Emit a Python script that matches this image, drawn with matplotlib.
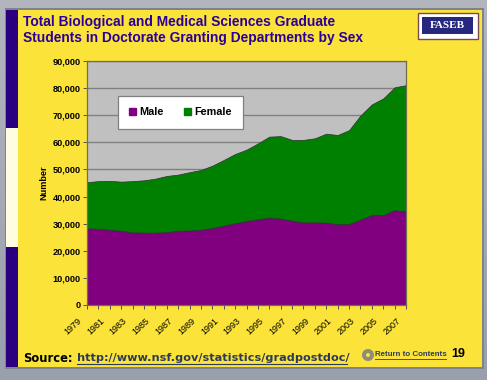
"""Graduate students by sex, FASEB slide."""

import matplotlib

matplotlib.use("Agg")
import matplotlib.pyplot as plt
import numpy as np
from matplotlib.patches import Circle, Patch, Rectangle
from matplotlib.transforms import ScaledTranslation

YEARS = list(range(1979, 2008))
MALE = [28300, 28100, 27800, 27400, 26800, 26700, 26700, 26900, 27400, 27500,
        27800, 28400, 29300, 30200, 31000, 31600, 32300, 31900, 31100, 30500,
        30500, 30400, 29800, 29900, 31500, 33200, 33200, 33800, 35000]
MALE[-1] = 34500
MALE[-2] = 35000
FEMALE = [17000, 17600, 18000, 18100, 18900, 19300, 19900, 20700, 20700, 21500,
          22000, 23000, 24200, 25500, 26300, 28000, 29800, 30400, 29800, 30400,
          31000, 32800, 32900, 34600, 38400, 40800, 43000, 45300, 46600]
YEAR_LABELS = [str(y) for y in YEARS[::2]]
Y_TICKS = list(range(0, 90001, 10000))

TITLE_LINES = [
    "Total Biological and Medical Sciences Graduate",
    "Students in Doctorate Granting Departments by Sex",
]

W, H = 487, 380
YELLOW = "#FBE339"
NAVY = "#2A0080"
LINK = "#2B3A5C"

plt.rcParams["font.family"] = ["Liberation Sans", "DejaVu Sans"]
fig = plt.figure(figsize=(W / 100, H / 100), dpi=100)

# backdrop in pixel coordinates
bg = fig.add_axes([0, 0, 1, 1], zorder=0)
bg.set_xlim(0, W)
bg.set_ylim(H, 0)
bg.axis("off")
bg.imshow(
    np.linspace(0, 1, 64).reshape(-1, 1),
    extent=(0, W, H, 0),
    aspect="auto",
    cmap=matplotlib.colors.LinearSegmentedColormap.from_list(
        "back", ["#B2B5BE", "#9A9FAD"]
    ),
)
bg.add_patch(Rectangle((5, 8), 479, 361, color="#7F838E", lw=0))
bg.add_patch(Rectangle((6, 10), 476, 357, color=YELLOW, lw=0))
bg.add_patch(Rectangle((6, 10), 12, 357, color=NAVY, lw=0))
bg.add_patch(Rectangle((6, 128), 12, 119, color="#FFFDE0", lw=0))

bg.text(23, 22, TITLE_LINES[0], color="#2A009C", fontsize=9.95, weight="bold", va="center")
bg.text(23, 38, TITLE_LINES[1], color="#2A009C", fontsize=9.95, weight="bold", va="center")

# FASEB logo
bg.add_patch(Rectangle((417.5, 12.5), 60, 26, fc="white", ec="#7A4A50", lw=1.0))
bg.add_patch(Rectangle((422, 17), 51, 17, color="#27277F", lw=0))
bg.text(447.5, 25.5, "FASEB", color="white", fontsize=8, weight="bold",
        family="Liberation Serif", ha="center", va="center")

# footer
bg.text(23, 358, "Source:", color="black", fontsize=8.3, weight="bold",
        family="DejaVu Sans", va="center")
bg.text(77, 358, "http://www.nsf.gov/statistics/gradpostdoc/", color=LINK,
        fontsize=8.1, weight="bold", family="DejaVu Sans", va="center")
bg.plot([77, 347], [364, 364], color=LINK, lw=0.8)
bg.add_patch(Circle((368, 355), 6, color="#8C8C78", lw=0))
bg.add_patch(Circle((368, 355), 2, color=YELLOW, lw=0))
bg.text(375, 354, "Return to Contents", color=LINK, fontsize=5.7,
        weight="bold", va="center")
bg.plot([375, 446], [358.5, 358.5], color=LINK, lw=0.6)
bg.text(451, 354, "19", color="black", fontsize=9, weight="bold", va="center")

# chart
left, right, top, bottom = 87, 406, 61, 305
ax = fig.add_axes(
    [left / W, 1 - bottom / H, (right - left) / W, (bottom - top) / H], zorder=1
)
ax.set_facecolor("#C0C0C0")
ax.stackplot(YEARS, MALE, FEMALE, colors=["#800080", "#008000"],
             edgecolor="#303030", linewidth=0.5, zorder=2)
ax.set_xlim(YEARS[0], YEARS[-1])
ax.set_ylim(0, 90000)
ax.set_yticks(Y_TICKS)
ax.set_yticklabels([f"{v:,}" for v in Y_TICKS], fontsize=6.6, weight="bold")
ax.set_xticks(YEARS[::2])
ax.set_xticklabels(YEAR_LABELS, fontsize=6.5, rotation=43, ha="right",
                   rotation_mode="anchor")
ax.set_xticks(YEARS, minor=True)
ax.tick_params(axis="y", length=3, width=0.7, color="#505050", pad=1.5)
ax.tick_params(axis="x", which="both", length=3, width=0.7, color="#505050", pad=5)
# the labels end left of their ticks in the original
shift = ScaledTranslation(-10 / 100, 0, fig.dpi_scale_trans)
for label in ax.get_xticklabels():
    label.set_transform(label.get_transform() + shift)
ax.grid(axis="y", color="#808080", lw=1.0, zorder=1)
ax.set_axisbelow(True)
for spine in ax.spines.values():
    spine.set_color("#6E6E50")
    spine.set_linewidth(0.9)
ax.set_ylabel("Number", fontsize=6.6, weight="bold", labelpad=3)

handles = [Patch(color="#800080", label="Male"), Patch(color="#008000", label="Female")]
legend = ax.legend(
    handles=handles,
    ncol=2,
    loc="upper left",
    bbox_to_anchor=((118 - left) / (right - left), 1 - (96 - top) / (bottom - top)),
    borderaxespad=0,
    fontsize=7.8,
    fancybox=False,
    framealpha=1,
    edgecolor="#808080",
    handlelength=0.65,
    handleheight=0.65,
    handletextpad=0.25,
    columnspacing=1.9,
    borderpad=1.05,
)
legend.get_frame().set_linewidth(0.9)
for text in legend.get_texts():
    text.set_weight("bold")

fig.savefig("out.png", dpi=100)
